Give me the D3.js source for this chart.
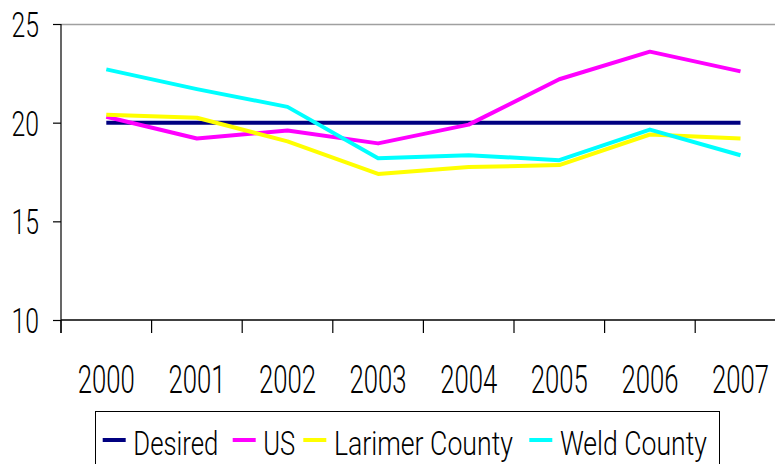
<!DOCTYPE html>
<html>
<head>
<meta charset="utf-8">
<script src="https://cdn.jsdelivr.net/npm/d3@7"></script>
<style>
  html, body { margin: 0; padding: 0; background: #fff; }
  svg { display: block; }
  text { font-family: Roboto, "Liberation Sans", Arial, sans-serif; font-weight: 300; fill: #000; }
</style>
</head>
<body>
<svg id="chart" width="775" height="464"></svg>
<script>
const years = ["2000", "2001", "2002", "2003", "2004", "2005", "2006", "2007"];
const desired = [20, 20, 20, 20, 20, 20, 20, 20];
const us = [20.3, 19.2, 19.6, 18.95, 19.9, 22.2, 23.6, 22.6];
const larimer = [20.4, 20.25, 19.05, 17.4, 17.75, 17.85, 19.4, 19.2];
const weld = [22.7, 21.7, 20.8, 18.2, 18.35, 18.1, 19.65, 18.35];
const seriesNames = ["Desired", "US", "Larimer County", "Weld County"];
const seriesColors = ["#000080", "#ff00ff", "#ffff00", "#00ffff"];
const yTicks = [10, 15, 20, 25];

(function () {
const series = [desired, us, larimer, weld].map((vals, i) => ({
  name: seriesNames[i], color: seriesColors[i], values: vals
}));

// layout constants (legend item starts and text widths, in px)
const legendX = [102.7, 232.7, 303.3, 529.3];
const legendW = [85, 32, 179, 147];

const FONT = 'Roboto, "Liberation Sans", Arial, sans-serif';
const svg = d3.select("#chart");
const mLeft = 61, mTop = 24, mBottom = 320, band = 90.6;

const x = d3.scaleBand().domain(years).range([mLeft, mLeft + band * years.length]).paddingInner(0).paddingOuter(0);
const y = d3.scaleLinear().domain([10, 25]).range([mBottom, mTop]);

function fitWidth(sel, target) {
  sel.each(function (d) {
    d3.select(this).attr("textLength", target).attr("lengthAdjust", "spacingAndGlyphs");
  });
}

// top border (gray)
svg.append("line")
  .attr("x1", mLeft).attr("x2", 775).attr("y1", mTop + 0.5).attr("y2", mTop + 0.5)
  .attr("stroke", "#a0a0a0").attr("stroke-width", 1.5);

// Y axis
const yAxis = d3.axisLeft(y).tickValues(yTicks).tickSize(8).tickPadding(14).tickSizeOuter(0);
const gy = svg.append("g").attr("transform", `translate(${mLeft},0)`).call(yAxis);
gy.select(".domain").remove();
gy.selectAll(".tick line").attr("stroke", "#000").attr("stroke-width", 1.2);
gy.selectAll(".tick text")
  .attr("x", 39 - mLeft).attr("dy", null).attr("y", 12.5)
  .attr("text-anchor", "end")
  .style("font-size", "35px").style("font-family", FONT).style("font-weight", 300);
fitWidth(gy.selectAll(".tick text"), 27.5);
svg.append("line")
  .attr("x1", mLeft).attr("x2", mLeft).attr("y1", mTop).attr("y2", mBottom + 13)
  .attr("stroke", "#000").attr("stroke-width", 1.2);

// X axis
svg.append("line")
  .attr("x1", mLeft).attr("x2", 775).attr("y1", mBottom).attr("y2", mBottom)
  .attr("stroke", "#000").attr("stroke-width", 1.5);
const boundaries = years.map(d => x(d)).concat([x(years[years.length - 1]) + x.bandwidth()]);
svg.append("g").selectAll("line").data(boundaries).join("line")
  .attr("x1", d => d).attr("x2", d => d)
  .attr("y1", mBottom).attr("y2", mBottom + 13)
  .attr("stroke", "#000").attr("stroke-width", 1.2);

const xAxis = d3.axisBottom(x).tickSize(0).tickPadding(0);
const gx = svg.append("g").attr("transform", `translate(0,${mBottom})`).call(xAxis);
gx.select(".domain").remove();
gx.selectAll(".tick text")
  .attr("y", 393 - mBottom).attr("dy", null)
  .style("font-size", "39px").style("font-family", FONT).style("font-weight", 300);
fitWidth(gx.selectAll(".tick text"), 57);

// Lines
const line = d3.line().x((d, i) => x(years[i]) + x.bandwidth() / 2).y(d => y(d));
svg.append("g").selectAll("path").data(series).join("path")
  .attr("d", d => line(d.values))
  .attr("fill", "none")
  .attr("stroke", d => d.color)
  .attr("stroke-width", 4)
  .attr("stroke-linejoin", "round")
  .attr("stroke-linecap", "butt");

// Legend
const lg = svg.append("g");
lg.append("rect")
  .attr("x", 95.5).attr("y", 411.5).attr("width", 624).attr("height", 80)
  .attr("fill", "#fff").attr("stroke", "#000").attr("stroke-width", 1);
const items = lg.selectAll("g.item").data(series).join("g").attr("class", "item")
  .attr("transform", (d, i) => `translate(${legendX[i]},0)`);
items.append("line")
  .attr("x1", 0).attr("x2", 23).attr("y1", 440).attr("y2", 440)
  .attr("stroke", d => d.color).attr("stroke-width", 4);
items.append("text")
  .attr("x", 30.6).attr("y", 455)
  .style("font-size", "33px")
  .attr("textLength", (d, i) => legendW[i]).attr("lengthAdjust", "spacingAndGlyphs")
  .text(d => d.name);
})();
</script>
</body>
</html>
